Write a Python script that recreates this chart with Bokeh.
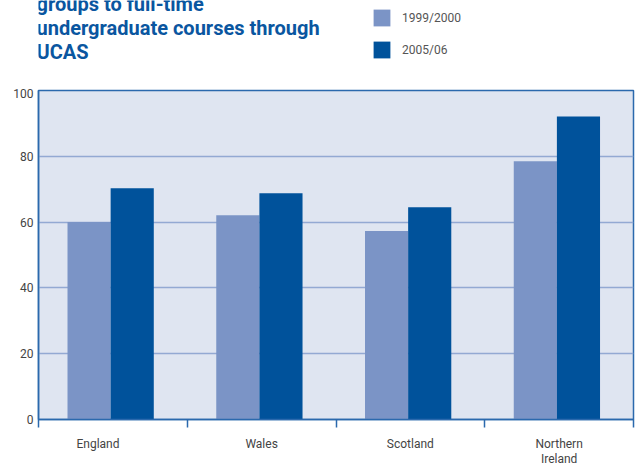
from bokeh.plotting import figure
from bokeh.layouts import column
from bokeh.models import FixedTicker, Legend, LegendItem, Range1d
from bokeh.core.properties import value
from bokeh.embed import file_html
from bokeh.resources import INLINE

categories = ["England", "Wales", "Scotland", "Northern\nIreland"]
series_names = ["1999/2000", "2005/06"]
values_1999 = [60.0, 62.1, 57.3, 78.5]
values_2005 = [70.3, 68.8, 64.5, 92.1]
y_ticks = [0, 20, 40, 60, 80, 100]
title_lines = ["groups to full-time", "undergraduate courses through", "UCAS"]

LIGHT = "#7b94c6"
DARK = "#00529b"
AXIS = "#2b69ad"
GRID = "#93a9d3"
BG = "#dfe5f1"
TXT = "#444444"
FONT = "Roboto"

TOP_H = 88
LEFT, RIGHT = 38, 6

# ---------- header (title + legend) ----------
top = figure(width=639, height=TOP_H, output_backend="svg", toolbar_location=None,
             x_range=Range1d(LEFT, 639 - RIGHT), y_range=Range1d(TOP_H, 0),
             x_axis_type=None, y_axis_type=None,
             min_border_left=LEFT, min_border_right=RIGHT,
             min_border_top=0, min_border_bottom=0)
top.outline_line_color = None
top.background_fill_color = "white"
top.border_fill_color = "white"
top.grid.visible = False
top.text(x=[36] * len(title_lines), y=[3 + 24 * i for i in range(len(title_lines))],
         text=title_lines, text_font=value(FONT), text_font_style="bold",
         text_font_size="20px", text_color="#0a56a0", text_baseline="alphabetic")
# legend swatches (renderers kept outside the visible header area)
d1 = top.vbar(x=[-1000], top=[1], width=1, fill_color=LIGHT, line_color=None)
d2 = top.vbar(x=[-1000], top=[1], width=1, fill_color=DARK, line_color=None)
legend = Legend(items=[LegendItem(label=series_names[0], renderers=[d1]),
                       LegendItem(label=series_names[1], renderers=[d2])],
                location=(371 - LEFT, TOP_H - 60), orientation="vertical",
                glyph_width=21, glyph_height=21, label_height=21,
                spacing=11, padding=0, margin=0, label_standoff=10,
                border_line_color=None, background_fill_alpha=0,
                label_text_font=FONT, label_text_font_size="12px",
                label_text_color="#555555")
top.add_layout(legend)

# ---------- main chart ----------
p = figure(width=639, height=468 - TOP_H, output_backend="svg", toolbar_location=None,
           x_range=Range1d(0, len(categories)), y_range=Range1d(0, 100),
           min_border_left=LEFT, min_border_right=RIGHT, min_border_top=90 - TOP_H,
           min_border_bottom=48)
p.background_fill_color = BG
p.border_fill_color = "white"
p.outline_line_color = AXIS
p.outline_line_width = 1.5

centers = [i + 0.5 for i in range(len(categories))]
x1 = [c - 0.16 for c in centers]
x2 = [c + 0.13 for c in centers]
p.vbar(x=x1, top=values_1999, width=0.29, fill_color=LIGHT, line_color=None)
p.vbar(x=x2, top=values_2005, width=0.29, fill_color=DARK, line_color=None)

p.xgrid.visible = False
p.ygrid.ticker = FixedTicker(ticks=y_ticks)
p.ygrid.grid_line_color = GRID
p.ygrid.grid_line_width = 1.5
p.ygrid.level = "underlay"

ya = p.yaxis[0]
ya.ticker = FixedTicker(ticks=y_ticks)
ya.axis_line_color = AXIS
ya.axis_line_width = 1.5
ya.major_tick_out = 0
ya.major_tick_in = 0
ya.minor_tick_line_color = None
ya.major_label_standoff = 5
ya.major_label_text_font = FONT
ya.major_label_text_font_size = "12px"
ya.major_label_text_color = TXT

# category labels (the first one sits a little left of its slot, as in the source)
label_pos = [c - (0.1 if i == 0 else 0.0) for i, c in enumerate(centers)]
xa = p.xaxis[0]
xa.ticker = FixedTicker(ticks=label_pos, minor_ticks=list(range(len(categories) + 1)))
xa.major_label_overrides = {c: name for c, name in zip(label_pos, categories)}
xa.axis_line_color = AXIS
xa.axis_line_width = 1.5
xa.major_tick_line_color = None
xa.major_tick_out = 0
xa.major_tick_in = 0
xa.minor_tick_line_color = AXIS
xa.minor_tick_line_width = 1.5
xa.minor_tick_out = 8
xa.minor_tick_in = 0
xa.major_label_standoff = 9
xa.major_label_text_line_height = 1.1
xa.major_label_text_font = FONT
xa.major_label_text_font_size = "12px"
xa.major_label_text_color = TXT

layout = column(top, p, spacing=0)
open("out.html", "w").write(file_html(layout, INLINE))
